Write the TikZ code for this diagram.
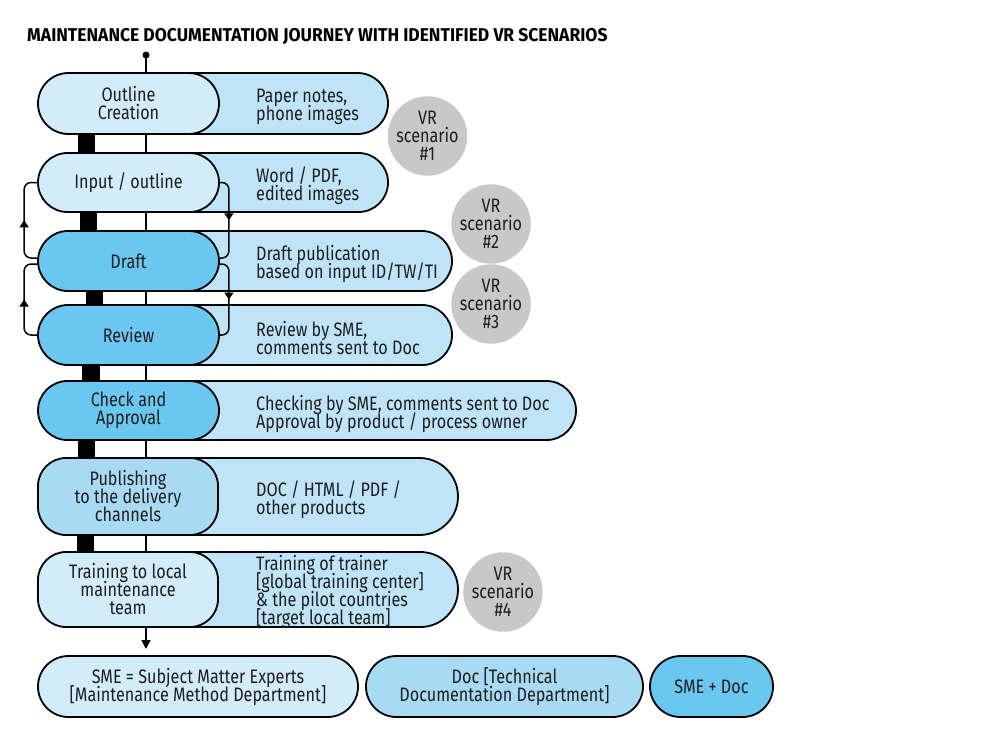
\documentclass[tikz,border=0pt]{standalone}
\usepackage{fontspec}
\setmainfont{Fira Sans}[FakeStretch=0.83]
\newfontfamily\titlefont{Fira Sans}[FakeStretch=0.945]
\usetikzlibrary{shapes.misc,arrows.meta,decorations.markings}
\newcommand\mytightlines{\lineskiplimit=-30pt\relax\lineskip=0pt\relax}
\definecolor{ink}{HTML}{1E1E1E}
\definecolor{stepL}{HTML}{D3ECFA}
\definecolor{descc}{HTML}{BFE4F8}
\definecolor{stepM}{HTML}{6AC7F0}
\definecolor{stepP}{HTML}{A9DAF4}
\definecolor{vrgrey}{HTML}{C9C8C8}
\begin{document}
\begin{tikzpicture}[x=1pt,y=-1pt,
  bodyfont/.style={font=\fontsize{19.5}{18}\selectfont\mytightlines},
  stepbox/.style={rounded rectangle, draw=black, line width=1.8pt, inner sep=0pt,
    bodyfont, text=ink, align=center},
  tallbox/.style={rectangle, rounded corners=28pt, draw=black, line width=1.8pt, inner sep=0pt,
    bodyfont, text=ink, align=center},
  descbox/.style={rounded rectangle, rounded rectangle left arc=none, draw=black,
    line width=1.8pt, fill=descc, inner sep=0pt},
  desctext/.style={anchor=west, align=left, inner sep=0pt, bodyfont, text=ink},
  vrcircle/.style={circle, fill=vrgrey, inner sep=0pt, minimum size=77pt, bodyfont,
    text=ink, align=center},
  bar/.style={fill=black},
  loopline/.style={line width=1.5pt, rounded corners=7pt,
    decoration={markings, mark=at position 0.5 with {\arrow{Triangle[length=7pt,width=9pt]}}},
    postaction={decorate}}
]
\useasboundingbox (0,0) rectangle (1000,739);
\fill[white] (0,0) rectangle (1000,739);

% title
\node[anchor=west, inner sep=0pt, text=black, font=\titlefont\bfseries\fontsize{18.5}{18.5}\selectfont]
  (title) at (27,36) {MAINTENANCE DOCUMENTATION JOURNEY WITH IDENTIFIED VR SCENARIOS};

% central thin line
\coordinate (start) at (146,55);
\coordinate (finish) at (146,649);
\draw[line width=1.5pt, -{Triangle[length=9pt,width=9pt]}] (start) -- (finish);
\fill (start) circle (3.5pt);

% black bars
\fill[bar] (78,133) rectangle (95,154);
\fill[bar] (80,211) rectangle (97,232);
\fill[bar] (86,290) rectangle (103,306);
\fill[bar] (82,364) rectangle (100,382);
\fill[bar] (78,439) rectangle (95,459);
\fill[bar] (77,534) rectangle (94,553);

% description pills
\node[descbox, minimum width=288pt, minimum height=61pt] (d1) at (244,103.5) {};
\node[descbox, minimum width=288pt, minimum height=59pt] (d2) at (244,182.5) {};
\node[descbox, minimum width=352pt, minimum height=60pt] (d3) at (276,261) {};
\node[descbox, minimum width=352pt, minimum height=60pt] (d4) at (276,335) {};
\node[descbox, minimum width=476pt, minimum height=59pt] (d5) at (338,410.5) {};
\node[descbox, minimum width=358pt, minimum height=77pt] (d6) at (279,496.5) {};
\node[descbox, minimum width=358pt, minimum height=75pt] (d7) at (279,589.5) {};

\node[desctext] (t1) at (256,107) {Paper notes,\\phone images};
\node[desctext] (t2) at (256,186) {Word / PDF,\\edited images};
\node[desctext] (t3) at (256,264) {Draft publication\\based on input ID/TW/TI};
\node[desctext] (t4) at (256,338.5) {Review by SME,\\comments sent to Doc};
\node[desctext] (t5) at (256,413.5) {Checking by SME, comments sent to Doc\\Approval by product / process owner};
\node[desctext] (t6) at (256,499.5) {DOC / HTML / PDF /\\other products};
\node[desctext] (t7) at (256,592) {Training of trainer\\{[}global training center{]}\\\&{} the pilot countries\\{[}target local team{]}};

% step pills
\node[stepbox, fill=stepL, minimum width=181pt, minimum height=61pt] (outline) at (128.5,103.5) {Outline\\Creation};
\node[stepbox, fill=stepL, minimum width=181pt, minimum height=59pt] (input) at (128.5,182.5) {Input / outline};
\node[stepbox, fill=stepM, minimum width=181pt, minimum height=60pt] (draft) at (128.5,261) {Draft};
\node[stepbox, fill=stepM, minimum width=181pt, minimum height=60pt] (review) at (128.5,335) {Review};
\node[stepbox, fill=stepM, minimum width=181pt, minimum height=59pt] (check) at (128.5,410.5) {Check and\\Approval};
\node[tallbox, fill=stepP, minimum width=180pt, minimum height=77pt] (publish) at (128,496.5) {Publishing\\to the delivery\\channels};
\node[tallbox, fill=stepL, minimum width=180pt, minimum height=75pt] (training) at (128,589.5) {Training to local\\maintenance\\team};

% VR scenarios
\node[vrcircle] (vr1) at (427.5,136) {VR\\scenario\\\#1};
\node[vrcircle] (vr2) at (491,224) {VR\\scenario\\\#2};
\node[vrcircle] (vr3) at (491,304) {VR\\scenario\\\#3};
\node[vrcircle, minimum size=75pt] (vr4) at (503,592) {VR\\scenario\\\#4};

% feedback loops
\draw[loopline] ([yshift=3pt]draft.west) -- ++(-13,0) |- (input.west);
\draw[loopline] (review.west) -- ++(-13,0) |- ([yshift=-3pt]draft.west);
\draw[loopline] (input.east) -- ++(9,0) |- ([yshift=3pt]draft.east);
\draw[loopline] ([yshift=-3pt]draft.east) -- ++(9,0) |- (review.east);

% legend
\node[stepbox, fill=stepL, minimum width=320pt, minimum height=61pt] (sme) at (198,686.5) {SME = Subject Matter Experts\\{[}Maintenance Method Department{]}};
\node[stepbox, fill=stepP, minimum width=277pt, minimum height=61pt] (doc) at (504.5,686.5) {Doc {[}Technical\\Documentation Department{]}};
\node[stepbox, fill=stepM, minimum width=123pt, minimum height=61pt] (both) at (711.5,686.5) {SME + Doc};
\end{tikzpicture}
\end{document}
